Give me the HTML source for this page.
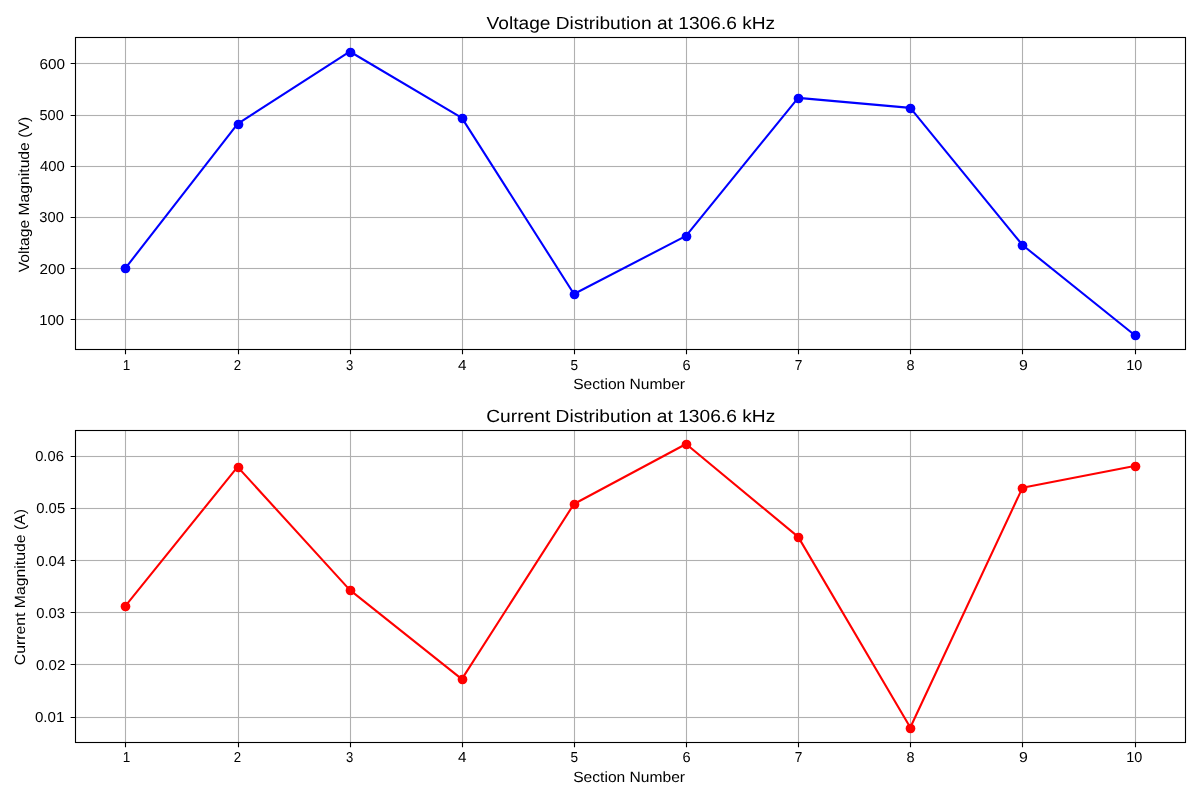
<!DOCTYPE html>
<html><head><meta charset="utf-8"><title>Voltage and Current Distribution</title>
<style>html,body{margin:0;padding:0;background:#fff;width:1200px;height:800px;overflow:hidden}</style>
</head><body>
<svg width="1200" height="800" viewBox="0 0 1200 800" style="display:block;will-change:transform;text-rendering:geometricPrecision"><rect width="1200" height="800" fill="#fff"/><path d="M124.945 37.5H126.055V349.5H124.945ZM237.945 37.5H239.055V349.5H237.945ZM349.945 37.5H351.055V349.5H349.945ZM461.945 37.5H463.055V349.5H461.945ZM573.945 37.5H575.055V349.5H573.945ZM685.945 37.5H687.055V349.5H685.945ZM797.945 37.5H799.055V349.5H797.945ZM909.945 37.5H911.055V349.5H909.945ZM1021.945 37.5H1023.055V349.5H1021.945ZM1134.945 37.5H1136.055V349.5H1134.945ZM75.5 318.945H1185.5V320.055H75.5ZM75.5 267.945H1185.5V269.055H75.5ZM75.5 216.945H1185.5V218.055H75.5ZM75.5 165.945H1185.5V167.055H75.5ZM75.5 114.945H1185.5V116.055H75.5ZM75.5 62.945H1185.5V64.055H75.5Z" fill="#b0b0b0"/><path d="M75.5 318H1185.5v1H75.5Z M75.5 320H1185.5v1H75.5ZM75.5 267H1185.5v1H75.5Z M75.5 269H1185.5v1H75.5ZM75.5 216H1185.5v1H75.5Z M75.5 218H1185.5v1H75.5ZM75.5 165H1185.5v1H75.5Z M75.5 167H1185.5v1H75.5ZM75.5 114H1185.5v1H75.5Z M75.5 116H1185.5v1H75.5ZM75.5 62H1185.5v1H75.5Z M75.5 64H1185.5v1H75.5Z" fill="#b0b0b0" fill-opacity="0.055"/><path d="M125.48 268.11L237.60 123.86L349.72 51.51L461.84 117.88L573.95 293.99L686.07 235.88L798.19 97.88L910.31 107.85L1022.43 244.99L1134.55 335.05" stroke="#0000ff" stroke-width="2.083" fill="none" stroke-linejoin="round" stroke-linecap="butt"/><circle cx="125.5" cy="268.5" r="4.861" fill="#0000ff"/><circle cx="238.5" cy="124.5" r="4.861" fill="#0000ff"/><circle cx="350.5" cy="52.5" r="4.861" fill="#0000ff"/><circle cx="462.5" cy="118.5" r="4.861" fill="#0000ff"/><circle cx="574.5" cy="294.5" r="4.861" fill="#0000ff"/><circle cx="686.5" cy="236.5" r="4.861" fill="#0000ff"/><circle cx="798.5" cy="98.5" r="4.861" fill="#0000ff"/><circle cx="910.5" cy="108.5" r="4.861" fill="#0000ff"/><circle cx="1022.5" cy="245.5" r="4.861" fill="#0000ff"/><circle cx="1135.5" cy="335.5" r="4.861" fill="#0000ff"/><path d="M74.945 36.945H1186.055V350.055H74.945Z M76.055 38.055V348.945H1184.945V38.055Z" fill="#000" fill-rule="evenodd"/><path d="M74.945 36H1186.055v1H74.945ZM74.945 38H1186.055v1H74.945ZM74.945 348H1186.055v1H74.945ZM74.945 350H1186.055v1H74.945Z" fill="#000" fill-opacity="0.055"/><path d="M124.945 349.5V354.360H126.055V349.5ZM237.945 349.5V354.360H239.055V349.5ZM349.945 349.5V354.360H351.055V349.5ZM461.945 349.5V354.360H463.055V349.5ZM573.945 349.5V354.360H575.055V349.5ZM685.945 349.5V354.360H687.055V349.5ZM797.945 349.5V354.360H799.055V349.5ZM909.945 349.5V354.360H911.055V349.5ZM1021.945 349.5V354.360H1023.055V349.5ZM1134.945 349.5V354.360H1136.055V349.5ZM75.5 318.945H70.640V320.055H75.5ZM75.5 267.945H70.640V269.055H75.5ZM75.5 216.945H70.640V218.055H75.5ZM75.5 165.945H70.640V167.055H75.5ZM75.5 114.945H70.640V116.055H75.5ZM75.5 62.945H70.640V64.055H75.5Z" fill="#000"/><path d="M124.945 430.5H126.055V742.5H124.945ZM237.945 430.5H239.055V742.5H237.945ZM349.945 430.5H351.055V742.5H349.945ZM461.945 430.5H463.055V742.5H461.945ZM573.945 430.5H575.055V742.5H573.945ZM685.945 430.5H687.055V742.5H685.945ZM797.945 430.5H799.055V742.5H797.945ZM909.945 430.5H911.055V742.5H909.945ZM1021.945 430.5H1023.055V742.5H1021.945ZM1134.945 430.5H1136.055V742.5H1134.945ZM75.5 716.945H1185.5V718.055H75.5ZM75.5 663.945H1185.5V665.055H75.5ZM75.5 611.945H1185.5V613.055H75.5ZM75.5 559.945H1185.5V561.055H75.5ZM75.5 507.945H1185.5V509.055H75.5ZM75.5 455.945H1185.5V457.055H75.5Z" fill="#b0b0b0"/><path d="M75.5 716H1185.5v1H75.5Z M75.5 718H1185.5v1H75.5ZM75.5 663H1185.5v1H75.5Z M75.5 665H1185.5v1H75.5ZM75.5 611H1185.5v1H75.5Z M75.5 613H1185.5v1H75.5ZM75.5 559H1185.5v1H75.5Z M75.5 561H1185.5v1H75.5ZM75.5 507H1185.5v1H75.5Z M75.5 509H1185.5v1H75.5ZM75.5 455H1185.5v1H75.5Z M75.5 457H1185.5v1H75.5Z" fill="#b0b0b0" fill-opacity="0.055"/><path d="M125.48 605.86L237.60 466.85L349.72 589.86L461.84 679.10L573.95 504.00L686.07 444.01L798.19 536.85L910.31 727.55L1022.43 487.85L1134.55 466.00" stroke="#ff0000" stroke-width="2.083" fill="none" stroke-linejoin="round" stroke-linecap="butt"/><circle cx="125.5" cy="606.5" r="4.861" fill="#ff0000"/><circle cx="238.5" cy="467.5" r="4.861" fill="#ff0000"/><circle cx="350.5" cy="590.5" r="4.861" fill="#ff0000"/><circle cx="462.5" cy="679.5" r="4.861" fill="#ff0000"/><circle cx="574.5" cy="504.5" r="4.861" fill="#ff0000"/><circle cx="686.5" cy="444.5" r="4.861" fill="#ff0000"/><circle cx="798.5" cy="537.5" r="4.861" fill="#ff0000"/><circle cx="910.5" cy="728.5" r="4.861" fill="#ff0000"/><circle cx="1022.5" cy="488.5" r="4.861" fill="#ff0000"/><circle cx="1135.5" cy="466.5" r="4.861" fill="#ff0000"/><path d="M74.945 429.945H1186.055V743.055H74.945Z M76.055 431.055V741.945H1184.945V431.055Z" fill="#000" fill-rule="evenodd"/><path d="M74.945 429H1186.055v1H74.945ZM74.945 431H1186.055v1H74.945ZM74.945 741H1186.055v1H74.945ZM74.945 743H1186.055v1H74.945Z" fill="#000" fill-opacity="0.055"/><path d="M124.945 742.5V747.360H126.055V742.5ZM237.945 742.5V747.360H239.055V742.5ZM349.945 742.5V747.360H351.055V742.5ZM461.945 742.5V747.360H463.055V742.5ZM573.945 742.5V747.360H575.055V742.5ZM685.945 742.5V747.360H687.055V742.5ZM797.945 742.5V747.360H799.055V742.5ZM909.945 742.5V747.360H911.055V742.5ZM1021.945 742.5V747.360H1023.055V742.5ZM1134.945 742.5V747.360H1136.055V742.5ZM75.5 716.945H70.640V718.055H75.5ZM75.5 663.945H70.640V665.055H75.5ZM75.5 611.945H70.640V613.055H75.5ZM75.5 559.945H70.640V561.055H75.5ZM75.5 507.945H70.640V509.055H75.5ZM75.5 455.945H70.640V457.055H75.5Z" fill="#000"/><g font-family="Liberation Sans, sans-serif" fill="#000"><text transform="translate(486.53,28.90)" font-size="17.60" textLength="288.66" lengthAdjust="spacingAndGlyphs">Voltage Distribution at 1306.6 kHz</text><text transform="translate(573.19,388.64)" font-size="14.80" textLength="111.87" lengthAdjust="spacingAndGlyphs">Section Number</text><text transform="translate(29.41,272.27) rotate(-90)" font-size="14.80" textLength="155.42" lengthAdjust="spacingAndGlyphs">Voltage Magnitude (V)</text><text transform="translate(39.17,324.89)" font-size="14.40" textLength="24.88" lengthAdjust="spacingAndGlyphs">100</text><text transform="translate(39.50,274.16)" font-size="14.40" textLength="25.34" lengthAdjust="spacingAndGlyphs">200</text><text transform="translate(39.37,222.38)" font-size="14.40" textLength="24.48" lengthAdjust="spacingAndGlyphs">300</text><text transform="translate(40.11,170.67)" font-size="14.40" textLength="24.74" lengthAdjust="spacingAndGlyphs">400</text><text transform="translate(39.44,120.33)" font-size="14.40" textLength="24.30" lengthAdjust="spacingAndGlyphs">500</text><text transform="translate(39.46,69.06)" font-size="14.40" textLength="25.57" lengthAdjust="spacingAndGlyphs">600</text><text transform="translate(122.76,370.14)" font-size="14.40" textLength="7.54" lengthAdjust="spacingAndGlyphs">1</text><text transform="translate(233.68,370.49)" font-size="14.40" textLength="7.36" lengthAdjust="spacingAndGlyphs">2</text><text transform="translate(345.89,369.74)" font-size="14.40" textLength="7.28" lengthAdjust="spacingAndGlyphs">3</text><text transform="translate(458.04,369.67)" font-size="14.40" textLength="8.52" lengthAdjust="spacingAndGlyphs">4</text><text transform="translate(570.42,370.44)" font-size="14.40" textLength="7.58" lengthAdjust="spacingAndGlyphs">5</text><text transform="translate(682.39,370.24)" font-size="14.40" textLength="8.13" lengthAdjust="spacingAndGlyphs">6</text><text transform="translate(794.83,370.44)" font-size="14.40" textLength="7.62" lengthAdjust="spacingAndGlyphs">7</text><text transform="translate(906.51,370.00)" font-size="14.40" textLength="8.09" lengthAdjust="spacingAndGlyphs">8</text><text transform="translate(1019.01,369.62)" font-size="14.40" textLength="8.83" lengthAdjust="spacingAndGlyphs">9</text><text transform="translate(1126.35,369.79)" font-size="14.40" textLength="16.05" lengthAdjust="spacingAndGlyphs">10</text><text transform="translate(486.26,421.90)" font-size="17.60" textLength="288.99" lengthAdjust="spacingAndGlyphs">Current Distribution at 1306.6 kHz</text><text transform="translate(573.19,781.94)" font-size="14.80" textLength="111.87" lengthAdjust="spacingAndGlyphs">Section Number</text><text transform="translate(25.38,665.21) rotate(-90)" font-size="14.80" textLength="156.16" lengthAdjust="spacingAndGlyphs">Current Magnitude (A)</text><text transform="translate(34.97,721.93)" font-size="14.40" textLength="29.37" lengthAdjust="spacingAndGlyphs">0.01</text><text transform="translate(35.98,670.22)" font-size="14.40" textLength="29.34" lengthAdjust="spacingAndGlyphs">0.02</text><text transform="translate(36.27,617.99)" font-size="14.40" textLength="28.78" lengthAdjust="spacingAndGlyphs">0.03</text><text transform="translate(36.13,565.75)" font-size="14.40" textLength="29.08" lengthAdjust="spacingAndGlyphs">0.04</text><text transform="translate(36.24,512.65)" font-size="14.40" textLength="28.90" lengthAdjust="spacingAndGlyphs">0.05</text><text transform="translate(35.19,461.12)" font-size="14.40" textLength="28.64" lengthAdjust="spacingAndGlyphs">0.06</text><text transform="translate(122.76,762.14)" font-size="14.40" textLength="7.54" lengthAdjust="spacingAndGlyphs">1</text><text transform="translate(233.68,762.49)" font-size="14.40" textLength="7.36" lengthAdjust="spacingAndGlyphs">2</text><text transform="translate(345.89,761.74)" font-size="14.40" textLength="7.28" lengthAdjust="spacingAndGlyphs">3</text><text transform="translate(458.04,761.67)" font-size="14.40" textLength="8.52" lengthAdjust="spacingAndGlyphs">4</text><text transform="translate(570.42,761.54)" font-size="14.40" textLength="7.58" lengthAdjust="spacingAndGlyphs">5</text><text transform="translate(682.39,762.24)" font-size="14.40" textLength="8.13" lengthAdjust="spacingAndGlyphs">6</text><text transform="translate(794.83,762.44)" font-size="14.40" textLength="7.62" lengthAdjust="spacingAndGlyphs">7</text><text transform="translate(906.51,762.00)" font-size="14.40" textLength="8.09" lengthAdjust="spacingAndGlyphs">8</text><text transform="translate(1019.01,761.62)" font-size="14.40" textLength="8.83" lengthAdjust="spacingAndGlyphs">9</text><text transform="translate(1126.35,761.79)" font-size="14.40" textLength="16.05" lengthAdjust="spacingAndGlyphs">10</text></g></svg>
</body></html>
